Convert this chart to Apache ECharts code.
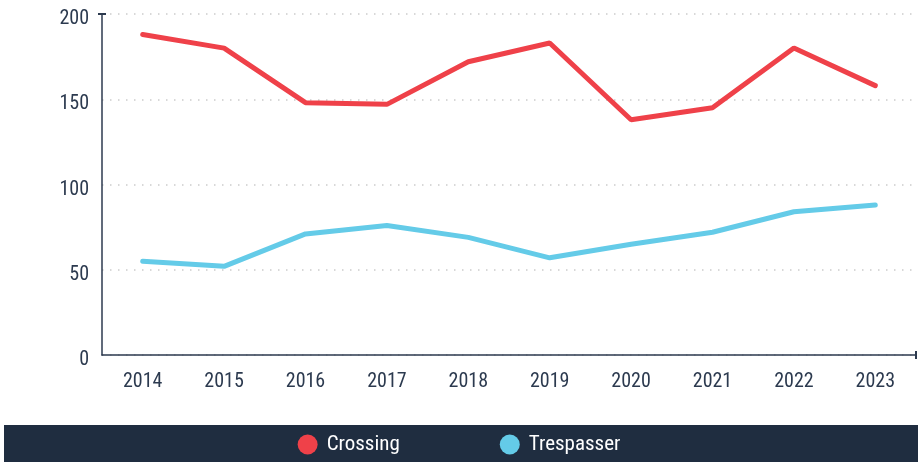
<!DOCTYPE html>
<html>
<head>
<meta charset="utf-8">
<script src="https://cdn.jsdelivr.net/npm/echarts@6/dist/echarts.min.js"></script>
<style>
  html, body { margin: 0; padding: 0; background: #fff; }
  #chart { width: 918px; height: 462px; }
</style>
</head>
<body>
<div id="chart"></div>
<script>
var years = ['2014', '2015', '2016', '2017', '2018', '2019', '2020', '2021', '2022', '2023'];
var crossing = [188, 180, 148, 147, 172, 183, 138, 145, 180, 158];
var trespasser = [55, 52, 71, 76, 69, 57, 65, 72, 84, 88];

var axisColor = '#2c3a4f';
var labelFont = 'Roboto Condensed, Liberation Sans Narrow, Roboto, sans-serif';

var chart = echarts.init(document.getElementById('chart'));
chart.setOption({
  animation: false,
  graphic: [{
    type: 'rect',
    shape: { x: 4, y: 425, width: 914, height: 37 },
    style: { fill: '#1f2d40' },
    z: 0
  }],
  legend: {
    data: ['Crossing', 'Trespasser'],
    left: 'center',
    top: 429,
    icon: 'circle',
    itemWidth: 20,
    itemHeight: 20,
    itemGap: 100,
    textStyle: { color: '#ffffff', fontSize: 21, fontFamily: labelFont, padding: [0, 0, 0, 4] },
    z: 5
  },
  grid: { left: 102, right: 2, top: 14, bottom: 107 },
  xAxis: {
    type: 'category',
    data: years,
    boundaryGap: true,
    axisLine: {
      lineStyle: { color: axisColor, width: 1.5 },
      symbol: ['none', 'rect'],
      symbolSize: [8, 2]
    },
    axisTick: { show: false },
    axisLabel: { color: axisColor, fontSize: 20, fontFamily: labelFont, margin: 17 }
  },
  yAxis: {
    type: 'value',
    min: 0,
    max: 200,
    interval: 50,
    axisLine: {
      show: true,
      lineStyle: { color: axisColor, width: 1.5 },
      symbol: ['none', 'rect'],
      symbolSize: [8, 2]
    },
    axisTick: { show: false },
    axisLabel: { color: axisColor, fontSize: 20, fontFamily: labelFont, margin: 13, verticalAlign: 'top', lineHeight: 10 },
    splitLine: {
      show: true,
      lineStyle: { color: '#cccccc', width: 1.5, type: [1.5, 6.5] }
    }
  },
  series: [
    {
      name: 'Crossing',
      type: 'line',
      data: crossing,
      showSymbol: false,
      symbol: 'none',
      color: '#ef4149',
      lineStyle: { width: 5, color: '#ef4149', cap: 'round' }
    },
    {
      name: 'Trespasser',
      type: 'line',
      data: trespasser,
      showSymbol: false,
      symbol: 'none',
      color: '#64cbe8',
      lineStyle: { width: 5, color: '#64cbe8', cap: 'round' }
    }
  ]
});
</script>
</body>
</html>
